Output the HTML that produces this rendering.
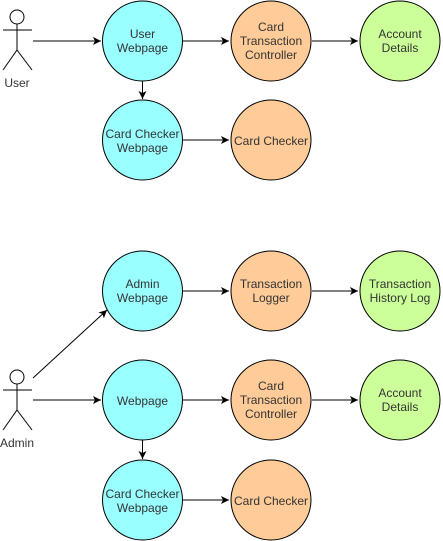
<!DOCTYPE html>
<html><head><style>body{margin:0;background:#fff}svg{display:block}text{font-family:"Liberation Sans",sans-serif;font-size:12px;fill:#333;text-anchor:middle}</style></head><body>
<svg width="443" height="541" viewBox="0 0 443 541" xmlns="http://www.w3.org/2000/svg">
<defs><marker id="a" markerWidth="10" markerHeight="10" refX="8" refY="5" orient="auto" markerUnits="userSpaceOnUse"><path d="M0,1 L8,5 L0,9 L2,5 Z" fill="#000"/></marker></defs>
<g stroke="#000" fill="none" stroke-width="1">
<circle cx="17" cy="17" r="7" fill="#fff"/><path d="M17,24V50M3,30H32M17,50L3,70M17,50L32,70"/>
<circle cx="17" cy="377" r="7" fill="#fff"/><path d="M17,384V410M3,390H32M17,410L3,430M17,410L32,430"/>
<g marker-end="url(#a)">
<path d="M33,41H101"/><path d="M183,41H229"/><path d="M312,41H358"/><path d="M142.5,81V99"/><path d="M183,140H229"/>
<path d="M33,378L107,310"/><path d="M183,291H229"/><path d="M312,291H358"/>
<path d="M33,400H101"/><path d="M183,400H229"/><path d="M312,400H358"/><path d="M142.5,440V459"/><path d="M183,500H229"/>
</g>
<g fill="#99ffff"><circle cx="142.5" cy="41" r="40"/><circle cx="142.5" cy="140" r="40"/><circle cx="142.5" cy="291" r="40"/><circle cx="142.5" cy="400" r="40"/><circle cx="142.5" cy="500" r="40"/></g>
<g fill="#ffcc99"><circle cx="271" cy="41" r="40"/><circle cx="271" cy="140" r="40"/><circle cx="271" cy="291" r="40"/><circle cx="271" cy="400" r="40"/><circle cx="271" cy="500" r="40"/></g>
<g fill="#ccff99"><circle cx="400" cy="41" r="40"/><circle cx="400" cy="291" r="40"/><circle cx="400" cy="400" r="40"/></g>
</g>
<text x="17" y="87">User</text><text x="17" y="447">Admin</text>
<text x="142.5" y="38">User</text><text x="142.5" y="52">Webpage</text>
<text x="271" y="31">Card</text><text x="271" y="45">Transaction</text><text x="271" y="59">Controller</text>
<text x="400" y="38">Account</text><text x="400" y="52">Details</text>
<text x="142.5" y="138">Card Checker</text><text x="142.5" y="152">Webpage</text>
<text x="271" y="145">Card Checker</text>
<text x="142.5" y="288">Admin</text><text x="142.5" y="302">Webpage</text>
<text x="271" y="288">Transaction</text><text x="271" y="302">Logger</text>
<text x="400" y="288">Transaction</text><text x="400" y="302">History Log</text>
<text x="142.5" y="405">Webpage</text>
<text x="271" y="390">Card</text><text x="271" y="404">Transaction</text><text x="271" y="418">Controller</text>
<text x="400" y="397">Account</text><text x="400" y="411">Details</text>
<text x="142.5" y="498">Card Checker</text><text x="142.5" y="512">Webpage</text>
<text x="271" y="505">Card Checker</text>
</svg></body></html>
